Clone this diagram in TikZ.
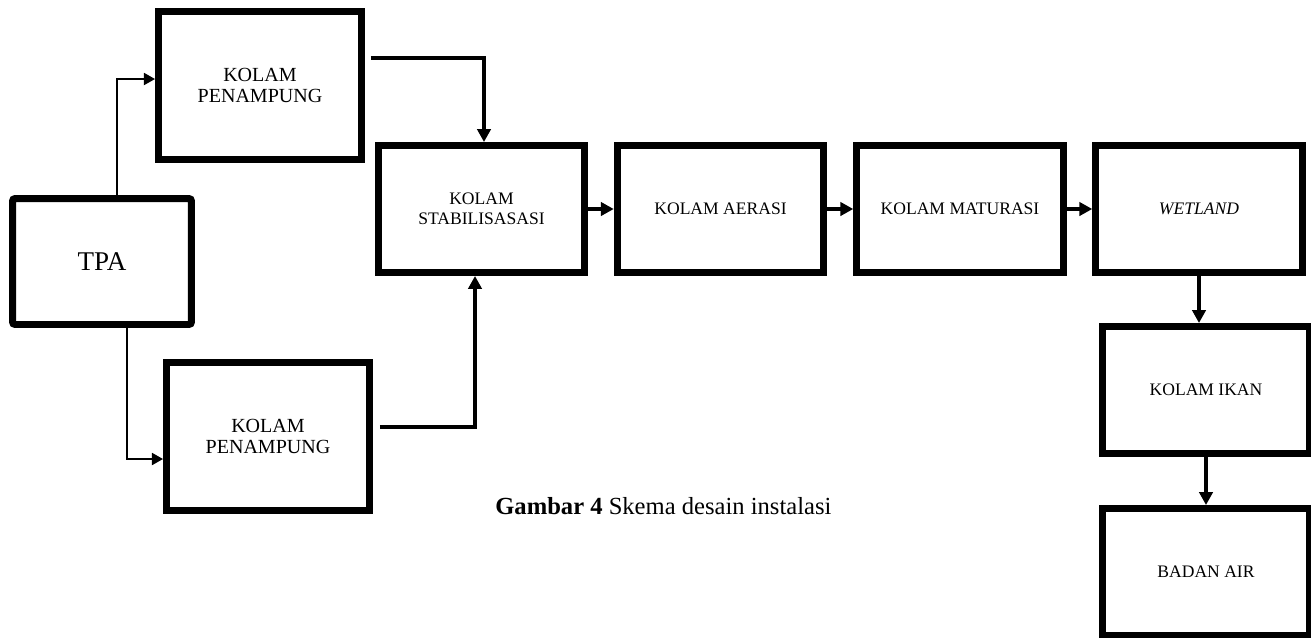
\documentclass[tikz,border=0pt]{standalone}
\usepackage{fontspec}
\setmainfont{Liberation Serif}
\usetikzlibrary{arrows.meta,calc}
\tikzset{
  box/.style={draw=black, line width=3.98pt, fill=white, inner sep=0pt,
    align=center, font=\fontsize{11.4}{12.2}\selectfont},
  rowbox/.style={box, minimum width=4.13cm, minimum height=2.54cm,
    font=\fontsize{10}{11.4}\selectfont},
  thinarrow/.style={line width=1.15pt, -{Triangle[length=6.3pt,width=6.8pt]}},
  thickarrow/.style={line width=2pt, -{Triangle[length=7.4pt,width=7.6pt]}},
}
\begin{document}
\begin{tikzpicture}[x=0.02cm,y=-0.02cm]
\useasboundingbox (0,0) rectangle (1311,637);
\clip (0,0) rectangle (1311,637);
\fill[white] (0,0) rectangle (1311,637);

\node[box, rounded corners=1.5pt, minimum width=3.58cm, minimum height=2.52cm,
  font=\fontsize{15.4}{17}\selectfont] (TPA) at (102,261.5) {TPA};
\node[box, minimum width=4.06cm, minimum height=2.96cm] (P1) at (260,85.5) {KOLAM\\PENAMPUNG};
\node[box, minimum width=4.06cm, minimum height=2.96cm] (P2) at (268,436.5) {KOLAM\\PENAMPUNG};
\node[rowbox] (Stab) at (481.5,209) {KOLAM\\STABILISASASI};
\node[rowbox] (Aerasi) at (720.5,209) {KOLAM AERASI};
\node[rowbox] (Mat) at (960,209) {KOLAM MATURASI};
\node[rowbox] (Wet) at (1199,209) {\textit{WETLAND}};
\node[rowbox] (Ikan) at (1206,390) {KOLAM IKAN};
\node[rowbox] (Badan) at (1206,572) {BADAN AIR};

\node[anchor=base west, inner sep=0pt, font=\fontsize{14}{16}\selectfont] (cap) at (495,514)
  {\textbf{Gambar 4} Skema desain instalasi};

% connectors
\draw[thinarrow] ($(TPA.north)+(15,0)$) |- ($(P1.west)+(0,-6.5)$);
\draw[thinarrow] ($(TPA.south)+(25,0)$) |- ($(P2.west)+(0,22.5)$);
\draw[thickarrow] ($(P1.east)+(6,-27.5)$) -| ($(Stab.north)+(2.5,0)$);
\draw[thickarrow] ($(P2.east)+(7,-9.5)$) -| ($(Stab.south)+(-6.5,0)$);
\draw[thickarrow] (Stab.east) -- (Aerasi.west);
\draw[thickarrow] (Aerasi.east) -- (Mat.west);
\draw[thickarrow] (Mat.east) -- (Wet.west);
\draw[thickarrow] (Wet.south) -- (Wet.south |- Ikan.north);
\draw[thickarrow] (Ikan.south) -- (Badan.north);
\end{tikzpicture}
\end{document}
